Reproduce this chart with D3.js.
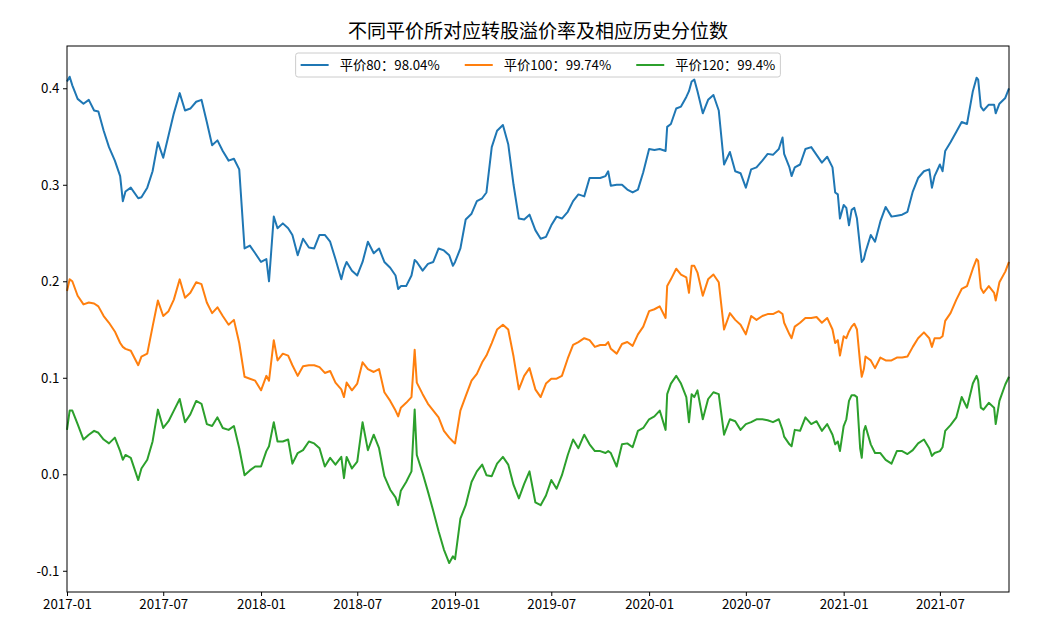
<!DOCTYPE html>
<html><head><meta charset="utf-8">
<script src="https://cdn.jsdelivr.net/npm/d3@7"></script>
<style>
body{margin:0;background:#fff}
svg{display:block}
text{font-family:"Noto Sans CJK SC","Noto Sans",sans-serif;fill:#000}
</style>
</head><body>
<svg id="chart" width="1043" height="637"></svg>
<script>
const chartTitle = "不同平价所对应转股溢价率及相应历史分位数";
const seriesNames = ["平价80：98.04%", "平价100：99.74%", "平价120：99.4%"];
const seriesColors = ["#1f77b4", "#ff7f0e", "#2ca02c"];
const xLimits = ["2017-01-01", "2021-11-08"];
const yLimits = [-0.122, 0.4438];
const xTickLabels = ["2017-01","2017-07","2018-01","2018-07","2019-01","2019-07","2020-01","2020-07","2021-01","2021-07"];
const yTickValues = [-0.1, 0.0, 0.1, 0.2, 0.3, 0.4];

const dates = [
"2017-01-01","2017-01-06","2017-01-11","2017-01-21","2017-02-01","2017-02-11","2017-02-21","2017-03-01","2017-03-11","2017-03-21",
"2017-04-01","2017-04-11","2017-04-16","2017-04-21","2017-05-01","2017-05-15","2017-05-21","2017-06-01","2017-06-11","2017-06-21",
"2017-07-01","2017-07-11","2017-07-21","2017-08-01","2017-08-11","2017-08-21","2017-09-01","2017-09-11","2017-09-21","2017-10-01",
"2017-10-11","2017-10-21","2017-11-01","2017-11-11","2017-11-21","2017-12-01","2017-12-11","2017-12-21","2018-01-01","2018-01-11",
"2018-01-16","2018-01-25","2018-02-01","2018-02-11","2018-02-21","2018-03-01","2018-03-11","2018-03-21","2018-04-01","2018-04-11",
"2018-04-21","2018-05-01","2018-05-11","2018-05-21","2018-06-01","2018-06-06","2018-06-11","2018-06-21","2018-07-01","2018-07-11",
"2018-07-21","2018-08-01","2018-08-11","2018-08-21","2018-09-01","2018-09-11","2018-09-16","2018-09-21","2018-10-01","2018-10-11",
"2018-10-17","2018-10-21","2018-11-01","2018-11-11","2018-11-21","2018-12-01","2018-12-11","2018-12-21","2018-12-28","2019-01-01",
"2019-01-11","2019-01-21","2019-02-01","2019-02-11","2019-02-21","2019-03-01","2019-03-11","2019-03-21","2019-04-01","2019-04-11",
"2019-04-21","2019-05-01","2019-05-11","2019-05-21","2019-06-01","2019-06-11","2019-06-21","2019-07-01","2019-07-11","2019-07-21",
"2019-08-01","2019-08-11","2019-08-21","2019-09-01","2019-09-11","2019-09-21","2019-10-01","2019-10-11","2019-10-16","2019-10-21",
"2019-11-01","2019-11-11","2019-11-21","2019-12-01","2019-12-11","2019-12-21","2020-01-01","2020-01-11","2020-01-21","2020-02-01",
"2020-02-04","2020-02-11","2020-02-21","2020-03-01","2020-03-11","2020-03-16","2020-03-21","2020-03-26","2020-04-01","2020-04-11",
"2020-04-21","2020-05-01","2020-05-11","2020-05-21","2020-06-01","2020-06-11","2020-06-21","2020-07-01","2020-07-11","2020-07-21",
"2020-08-01","2020-08-11","2020-08-21","2020-09-01","2020-09-08","2020-09-11","2020-09-21","2020-09-25","2020-10-01","2020-10-11",
"2020-10-21","2020-11-01","2020-11-11","2020-11-21","2020-12-01","2020-12-11","2020-12-16","2020-12-21","2020-12-25","2021-01-01",
"2021-01-06","2021-01-11","2021-01-16","2021-01-21","2021-01-26","2021-02-01","2021-02-04","2021-02-08","2021-02-11","2021-02-21",
"2021-03-01","2021-03-11","2021-03-21","2021-04-01","2021-04-11","2021-04-21","2021-05-01","2021-05-11","2021-05-21","2021-06-01",
"2021-06-11","2021-06-16","2021-06-21","2021-07-01","2021-07-06","2021-07-11","2021-07-21","2021-08-01","2021-08-11","2021-08-21",
"2021-09-01","2021-09-08","2021-09-11","2021-09-16","2021-09-21","2021-10-01","2021-10-11","2021-10-14","2021-10-21","2021-11-01",
"2021-11-08"
];

const premium80 = [
0.407,0.412,0.403,0.389,0.384,0.388,0.377,0.376,0.356,0.339,
0.325,0.309,0.283,0.293,0.297,0.286,0.287,0.297,0.314,0.344,
0.328,0.351,0.374,0.395,0.377,0.379,0.386,0.388,0.365,0.341,
0.346,0.335,0.325,0.327,0.316,0.234,0.237,0.229,0.220,0.223,
0.200,0.267,0.255,0.260,0.255,0.248,0.227,0.244,0.235,0.234,
0.248,0.248,0.241,0.223,0.202,0.213,0.220,0.211,0.206,0.220,
0.241,0.229,0.234,0.220,0.214,0.206,0.192,0.195,0.195,0.206,
0.222,0.220,0.211,0.218,0.220,0.234,0.232,0.227,0.216,0.220,
0.234,0.264,0.270,0.283,0.286,0.292,0.339,0.356,0.362,0.342,
0.300,0.265,0.264,0.269,0.253,0.244,0.246,0.258,0.267,0.265,
0.272,0.283,0.290,0.288,0.307,0.307,0.307,0.309,0.314,0.299,
0.300,0.300,0.295,0.292,0.295,0.313,0.337,0.336,0.337,0.335,
0.360,0.363,0.379,0.381,0.391,0.397,0.407,0.409,0.397,0.374,
0.388,0.393,0.377,0.321,0.334,0.314,0.312,0.297,0.316,0.318,
0.325,0.332,0.331,0.337,0.349,0.332,0.318,0.309,0.318,0.321,
0.337,0.339,0.331,0.323,0.329,0.318,0.292,0.290,0.265,0.279,
0.276,0.258,0.274,0.276,0.265,0.234,0.220,0.223,0.230,0.248,
0.241,0.262,0.277,0.267,0.268,0.269,0.272,0.293,0.307,0.314,
0.316,0.297,0.309,0.321,0.314,0.335,0.344,0.355,0.365,0.363,
0.397,0.411,0.409,0.381,0.377,0.383,0.383,0.374,0.384,0.390,
0.400
];

const premium100 = [
0.190,0.202,0.200,0.185,0.176,0.178,0.177,0.174,0.164,0.157,
0.148,0.136,0.132,0.130,0.128,0.113,0.122,0.125,0.153,0.180,
0.164,0.169,0.181,0.202,0.183,0.188,0.199,0.197,0.178,0.167,
0.173,0.164,0.155,0.160,0.136,0.101,0.099,0.097,0.087,0.102,
0.097,0.139,0.118,0.125,0.123,0.113,0.102,0.112,0.113,0.113,
0.111,0.105,0.107,0.095,0.088,0.080,0.095,0.087,0.094,0.116,
0.109,0.106,0.109,0.085,0.076,0.066,0.060,0.069,0.074,0.080,
0.129,0.095,0.083,0.073,0.066,0.059,0.045,0.038,0.034,0.032,
0.066,0.081,0.097,0.104,0.116,0.123,0.136,0.150,0.155,0.150,
0.122,0.088,0.102,0.110,0.088,0.080,0.094,0.099,0.099,0.102,
0.120,0.134,0.137,0.141,0.139,0.132,0.134,0.134,0.137,0.130,
0.125,0.135,0.137,0.133,0.145,0.153,0.169,0.171,0.174,0.162,
0.195,0.202,0.213,0.207,0.204,0.188,0.216,0.216,0.209,0.185,
0.202,0.207,0.199,0.150,0.167,0.160,0.155,0.145,0.164,0.160,
0.164,0.166,0.166,0.169,0.166,0.157,0.145,0.141,0.153,0.157,
0.162,0.162,0.163,0.157,0.162,0.150,0.136,0.139,0.123,0.143,
0.141,0.148,0.153,0.156,0.150,0.115,0.101,0.109,0.122,0.118,
0.110,0.121,0.118,0.118,0.121,0.121,0.122,0.132,0.141,0.147,
0.141,0.132,0.141,0.141,0.143,0.159,0.167,0.181,0.192,0.195,
0.213,0.223,0.221,0.193,0.188,0.195,0.188,0.180,0.199,0.210,
0.220
];

const premium120 = [
0.046,0.066,0.066,0.052,0.036,0.041,0.045,0.043,0.036,0.032,
0.038,0.024,0.015,0.020,0.017,-0.006,0.006,0.015,0.034,0.067,
0.048,0.055,0.066,0.078,0.054,0.062,0.076,0.073,0.052,0.050,
0.059,0.048,0.046,0.050,0.027,-0.001,0.004,0.008,0.008,0.024,
0.029,0.054,0.034,0.034,0.036,0.011,0.022,0.025,0.034,0.032,
0.027,0.008,0.017,0.010,0.018,-0.004,0.018,0.006,0.013,0.054,
0.025,0.041,0.027,-0.002,-0.016,-0.024,-0.032,-0.017,-0.008,0.003,
0.067,0.020,0.001,-0.018,-0.038,-0.059,-0.078,-0.092,-0.085,-0.088,
-0.046,-0.032,-0.008,0.003,0.010,-0.001,-0.002,0.011,0.018,0.010,
-0.011,-0.025,-0.010,0.003,-0.029,-0.032,-0.022,-0.006,-0.015,-0.001,
0.020,0.036,0.027,0.041,0.031,0.024,0.024,0.022,0.024,0.022,
0.008,0.031,0.032,0.028,0.045,0.048,0.057,0.060,0.066,0.046,
0.083,0.094,0.102,0.094,0.080,0.054,0.083,0.080,0.087,0.057,
0.078,0.085,0.083,0.041,0.057,0.055,0.046,0.052,0.054,0.057,
0.057,0.056,0.054,0.057,0.046,0.039,0.031,0.029,0.046,0.045,
0.059,0.052,0.055,0.045,0.052,0.041,0.031,0.034,0.024,0.050,
0.057,0.076,0.082,0.082,0.080,0.027,0.017,0.045,0.050,0.031,
0.022,0.022,0.015,0.011,0.024,0.024,0.021,0.025,0.032,0.036,
0.027,0.019,0.022,0.024,0.028,0.045,0.051,0.059,0.080,0.069,
0.094,0.102,0.097,0.069,0.067,0.074,0.069,0.052,0.076,0.093,
0.101
];

const seriesValues = [premium80, premium100, premium120];

const svg = d3.select("#chart");
const M = {l: 67, r: 1009, t: 46, b: 592};
const parse = d3.timeParse("%Y-%m-%d");
const parseMonth = d3.timeParse("%Y-%m");

const x = d3.scaleTime().domain(xLimits.map(parse)).range([M.l, M.r]);
const y = d3.scaleLinear().domain(yLimits).range([M.b, M.t]);

// lines
const line = d3.line().x(d => x(d.date)).y(d => y(d.v));
seriesValues.forEach((vals, i) => {
  const pts = dates.map((d, j) => ({date: parse(d), v: vals[j]}));
  svg.append("path").datum(pts)
    .attr("fill", "none")
    .attr("stroke", seriesColors[i])
    .attr("stroke-width", 2)
    .attr("stroke-linejoin", "round")
    .attr("d", line);
});

// axes
const fontSize = "13.3px";
const xAxis = d3.axisBottom(x)
  .tickValues(xTickLabels.map(parseMonth))
  .tickFormat(d3.timeFormat("%Y-%m"))
  .tickSize(4).tickPadding(3.5);
const gx = svg.append("g").attr("transform", `translate(0,${M.b})`).call(xAxis);
gx.select(".domain").remove();
gx.selectAll("line").attr("stroke", "#000").attr("stroke-width", 1);
gx.selectAll("text").style("font-size", fontSize).attr("fill", "#000");

const yAxis = d3.axisLeft(y)
  .tickValues(yTickValues)
  .tickFormat(d => d3.format(".1f")(d).replace("−", "-"))
  .tickSize(4).tickPadding(3.5);
const gy = svg.append("g").attr("transform", `translate(${M.l},0)`).call(yAxis);
gy.select(".domain").remove();
gy.selectAll("line").attr("stroke", "#000").attr("stroke-width", 1);
gy.selectAll("text").style("font-size", fontSize).attr("fill", "#000");

// frame (spines)
svg.append("rect")
  .attr("x", M.l).attr("y", M.t)
  .attr("width", M.r - M.l).attr("height", M.b - M.t)
  .attr("fill", "none").attr("stroke", "#000").attr("stroke-width", 1);

// title
svg.append("text")
  .attr("x", (M.l + M.r) / 2).attr("y", 38)
  .attr("text-anchor", "middle")
  .style("font-size", "19px")
  .text(chartTitle);

// legend
const lg = svg.append("g");
const box = lg.append("rect");
const handleLen = 28, handleGap = 11, colGap = 25, pad = 5;
let cursor = 0;
const items = [];
seriesNames.forEach((name, i) => {
  const g = lg.append("g");
  g.append("line").attr("x1", 0).attr("x2", handleLen).attr("y1", 0).attr("y2", 0)
    .attr("stroke", seriesColors[i]).attr("stroke-width", 2);
  const t = g.append("text").attr("x", handleLen + handleGap).attr("y", 0)
    .attr("dy", "0.35em").style("font-size", fontSize).text(name);
  const w = handleLen + handleGap + t.node().getComputedTextLength();
  items.push({g, w});
});
const total = items.reduce((s, it) => s + it.w, 0) + colGap * (items.length - 1) + pad * 2;
const bx = (M.l + M.r) / 2 - total / 2;
const by = 53, bh = 24;
cursor = bx + pad;
items.forEach(it => {
  it.g.attr("transform", `translate(${cursor},${by + bh / 2})`);
  cursor += it.w + colGap;
});
box.attr("x", bx).attr("y", by).attr("width", total).attr("height", bh)
  .attr("rx", 2.5).attr("fill", "#fff").attr("fill-opacity", 0.8)
  .attr("stroke", "#cccccc").attr("stroke-width", 1);
</script>
</body></html>
